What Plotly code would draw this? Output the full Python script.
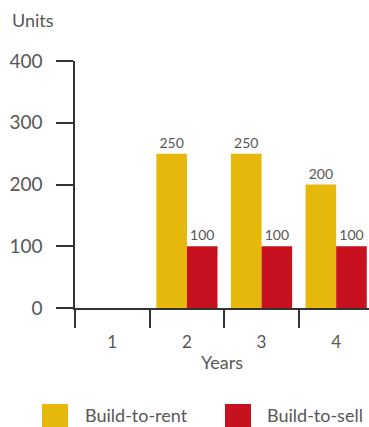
import plotly.graph_objects as go

years = [1, 2, 3, 4]
year_labels = ["1", "2", "3", "4"]
build_to_rent = [0, 250, 250, 200]
build_to_sell = [0, 100, 100, 100]
y_ticks = [0, 100, 200, 300, 400]
series_names = ["Build-to-rent", "Build-to-sell"]
colors = ["#E5B80B", "#C8111E"]

FONT = "Lato"
W = 400
TXT = "#575757"
AX = "#333333"

def f(size):
    return dict(size=size, color=TXT, family=FONT, weight=W)

fig = go.Figure()
for name, vals, col in zip(series_names, [build_to_rent, build_to_sell], colors):
    fig.add_trace(go.Bar(
        x=years, y=vals, name=name, marker=dict(color=col, line=dict(width=0)),
        text=[str(v) if v else "" for v in vals], textposition="outside",
        textfont=f(14), cliponaxis=False,
        showlegend=False,
    ))

fig.update_layout(
    width=369, height=427,
    margin=dict(l=75, r=0, t=61, b=119),
    paper_bgcolor="white", plot_bgcolor="white",
    barmode="group", bargap=0.18, bargroupgap=0,
    font=f(16),
)
fig.update_xaxes(
    range=[0.5, 4.44], tickvals=years, ticktext=year_labels,
    ticks="", ticklabelstandoff=18, tickfont=f(17),
    showgrid=False, zeroline=False, showline=True, linecolor=AX, linewidth=1.5,
    minor=dict(tickvals=[0.5, 1.5, 2.5, 3.5], ticks="outside", ticklen=18,
               tickwidth=1.5, tickcolor=AX, showgrid=False),
    title=dict(text="Years", font=f(18), standoff=5),
)
fig.update_yaxes(
    range=[0, 400], tickvals=y_ticks, ticks="outside", ticklen=17,
    tickwidth=1.5, tickcolor=AX, ticklabelstandoff=10,
    tickfont=f(19),
    showgrid=False, zeroline=False, showline=True, linecolor=AX, linewidth=1.5,
)

fig.add_annotation(text="Units", xref="paper", yref="paper", x=-75/294, y=1 + 41/247,
                   xanchor="left", yanchor="middle", showarrow=False,
                   xshift=10, font=f(18))

# legend
leg = [(42, 83, 0), (225, 265, 1)]
for sx, tx, i in leg:
    fig.add_shape(type="rect", xref="paper", yref="paper",
                  x0=(sx - 75) / 294, x1=(sx + 26 - 75) / 294,
                  y0=-(404 - 308) / 247, y1=-(428 - 308) / 247,
                  fillcolor=colors[i], line=dict(width=0))
    fig.add_annotation(text=series_names[i], xref="paper", yref="paper",
                       x=(tx - 75) / 294, y=-(415 - 308) / 247,
                       xanchor="left", yanchor="middle", showarrow=False,
                       font=f(18))

fig.write_html("out.html")
